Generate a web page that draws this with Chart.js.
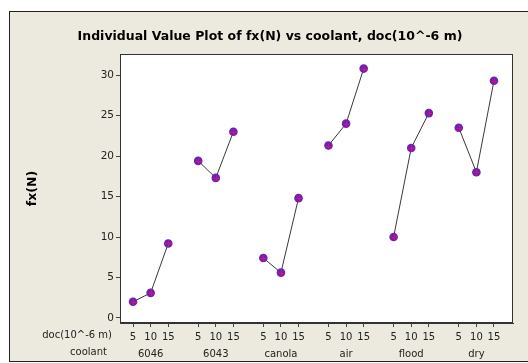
<!DOCTYPE html>
<html>
<head>
<meta charset="utf-8">
<script src="https://cdn.jsdelivr.net/npm/chart.js@4.4.1/dist/chart.umd.min.js"></script>
<style>
  html, body { margin: 0; padding: 0; background: #fff; }
  #wrap { position: relative; width: 528px; height: 363px; }
</style>
</head>
<body>
<div id="wrap"><canvas id="ivp" width="528" height="363"></canvas></div>
<script>
// data
const coolants = ["6046", "6043", "canola", "air", "flood", "dry"];
const docLevels = [5, 10, 15];
const fx6046 = [2.0, 3.1, 9.2];
const fx6043 = [19.4, 17.3, 23.0];
const fxCanola = [7.4, 5.6, 14.8];
const fxAir = [21.3, 24.0, 30.8];
const fxFlood = [10.0, 21.0, 25.3];
const fxDry = [23.5, 18.0, 29.3];
const yTicks = [0, 5, 10, 15, 20, 25, 30];

const allFx = [fx6046, fx6043, fxCanola, fxAir, fxFlood, fxDry];
const groupStep = 3.7; // spacing between coolant groups, in doc positions
const FONT = "'DejaVu Sans', sans-serif";

const xPos = (g, i) => g * groupStep + i;

const datasets = coolants.map((name, g) => ({
  label: name,
  data: allFx[g].map((v, i) => ({ x: xPos(g, i), y: v })),
  borderColor: "#3a3a3a",
  borderWidth: 1,
  pointRadius: 4.3,
  pointBackgroundColor: "#6a22b8",
  pointBorderWidth: 0,
  tension: 0,
}));

const xTickVals = [];
coolants.forEach((_, g) => docLevels.forEach((_, i) => xTickVals.push(xPos(g, i))));

// frame, plot box, crosses on the markers and the extra labels
const decor = {
  id: "decor",
  beforeDraw(chart) {
    const { ctx, chartArea: a } = chart;
    ctx.save();
    ctx.fillStyle = "#fff";
    ctx.fillRect(0, 0, chart.width, chart.height);
    ctx.fillStyle = "#ece9df";
    ctx.fillRect(9, 11, chart.width, 351);
    ctx.strokeStyle = "#222";
    ctx.lineWidth = 1;
    ctx.strokeRect(9.5, 11.5, chart.width + 10, 350);
    ctx.fillStyle = "#fff";
    ctx.fillRect(a.left, a.top, a.right - a.left, a.bottom - a.top);
    ctx.restore();
  },
  afterDatasetsDraw(chart) {
    const { ctx, chartArea: a } = chart;
    ctx.save();
    ctx.strokeStyle = "#e0106a";
    ctx.lineWidth = 1;
    chart.data.datasets.forEach((_, d) => {
      chart.getDatasetMeta(d).data.forEach((p) => {
        const x = Math.round(p.x) + 0.5, y = Math.round(p.y) + 0.5;
        ctx.beginPath();
        ctx.moveTo(x - 3, y); ctx.lineTo(x + 3, y);
        ctx.moveTo(x, y - 3); ctx.lineTo(x, y + 3);
        ctx.stroke();
      });
    });
    ctx.strokeStyle = "#333";
    ctx.strokeRect(a.left + 0.5, a.top + 0.5, a.right - a.left - 1, a.bottom - a.top - 1);

    ctx.fillStyle = "#000";
    ctx.textAlign = "center";
    ctx.textBaseline = "middle";
    ctx.font = "bold 12.5px " + FONT;
    ctx.fillText("Individual Value Plot of fx(N) vs coolant, doc(10^-6 m)", 270, 37);

    ctx.save();
    ctx.translate(33, (a.top + a.bottom) / 2);
    ctx.rotate(-Math.PI / 2);
    ctx.fillText("fx(N)", 0, 0);
    ctx.restore();

    ctx.font = "10px " + FONT;
    ctx.fillStyle = "#222";
    ctx.textAlign = "right";
    ctx.fillText("doc(10^-6 m)", a.left - 8, a.bottom + 12);
    ctx.fillText("coolant", a.left - 13, a.bottom + 29);
    ctx.restore();
  },
};

new Chart(document.getElementById("ivp"), {
  type: "line",
  data: { datasets },
  options: {
    responsive: false,
    animation: false,
    layout: { padding: { top: 54, right: 15, left: 0, bottom: 0 } },
    plugins: { legend: { display: false }, tooltip: { enabled: false } },
    scales: {
      x: {
        type: "linear",
        min: -0.74,
        max: (coolants.length - 1) * groupStep + docLevels.length - 1 + 1.08,
        afterBuildTicks: (s) => { s.ticks = xTickVals.map((v) => ({ value: v })); },
        afterFit: (s) => { s.height = 40; },
        grid: { drawOnChartArea: false, drawTicks: true, tickLength: 4, color: "#444" },
        border: { display: true, color: "#333" },
        ticks: {
          autoSkip: false,
          maxRotation: 0,
          padding: 2,
          color: "#222",
          font: { family: FONT, size: 10, lineHeight: 1.7 },
          callback: (v) => {
            const k = xTickVals.findIndex((t) => Math.abs(t - v) < 1e-6);
            const g = Math.floor(k / docLevels.length), i = k % docLevels.length;
            return i === 1 ? [String(docLevels[i]), coolants[g]] : String(docLevels[i]);
          },
        },
      },
      y: {
        min: -0.62,
        max: 32.6,
        afterBuildTicks: (s) => { s.ticks = yTicks.map((v) => ({ value: v })); },
        afterFit: (s) => { s.width = 120; },
        grid: { drawOnChartArea: false, drawTicks: true, tickLength: 4, color: "#444" },
        border: { display: true, color: "#333" },
        ticks: { padding: 2, color: "#222", font: { family: FONT, size: 10.5 } },
      },
    },
  },
  plugins: [decor],
});
</script>
</body>
</html>
